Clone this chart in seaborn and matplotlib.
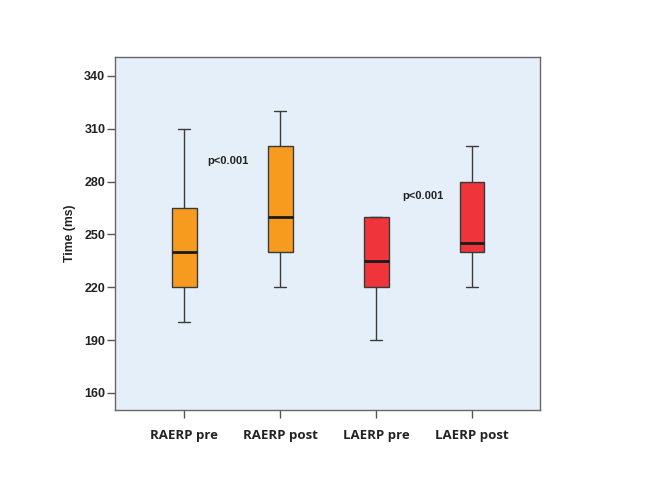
import pandas as pd
import matplotlib
matplotlib.use('Agg')
import matplotlib.pyplot as plt
import seaborn as sns

# %% Data (five-number summaries)
groups = ['RAERP pre', 'RAERP post', 'LAERP pre', 'LAERP post']
raerp_pre = [200, 220, 240, 265, 310]
raerp_post = [220, 240, 260, 300, 320]
laerp_pre = [190, 220, 235, 260, 260]
laerp_post = [220, 240, 245, 280, 300]
yticks = [160, 190, 220, 250, 280, 310, 340]
p_labels = ['p<0.001', 'p<0.001']

# %% Build long table
values = [raerp_pre, raerp_post, laerp_pre, laerp_post]
df = pd.DataFrame({
    'group': [g for g, v in zip(groups, values) for _ in v],
    'time': [x for v in values for x in v],
})

colors = ['#F79B1F', '#F79B1F', '#EF353B', '#EF353B']

sns.set_style('white')
plt.rcParams['font.family'] = ['Liberation Sans', 'DejaVu Sans']

fig = plt.figure(figsize=(6.5, 5.03), dpi=100)
ax = fig.add_axes([0.177, 0.185, 0.654, 0.702])
ax.set_facecolor('#E5EFFA')

sns.boxplot(data=df, x='group', y='time', hue='group', palette=colors,
            order=groups, width=0.26, linewidth=1.0, saturation=1,
            linecolor='#3a3a3a', whis=(0, 100), legend=False,
            medianprops={'color': '#1a1a1a', 'linewidth': 2.0},
            ax=ax)

ax.set_ylim(150.3, 350.8)
ax.set_xlim(-0.72, 3.71)
ax.set_yticks(yticks)
ax.set_yticklabels([str(t) for t in yticks], fontsize=9, fontweight='bold', color='#222222')
ax.set_xticks(range(len(groups)))
ax.set_xticklabels(groups, fontsize=9.5, fontweight='bold', color='#222222',
                   family=['Open Sans', 'DejaVu Sans'])
ax.set_xlabel('')
ax.set_ylabel('Time (ms)', fontsize=8.8, fontweight='bold', color='#222222', labelpad=6)
ax.tick_params(axis='both', direction='out', length=6, width=1, color='#555555',
               pad=1, bottom=True, left=True)
ax.tick_params(axis='x', pad=8)
for s in ax.spines.values():
    s.set_color('#666666')
    s.set_linewidth(1.0)

ax.text(0.24, 291.7, p_labels[0], fontsize=8, fontweight='bold', color='#222222', va='center')
ax.text(2.27, 272, p_labels[1], fontsize=8, fontweight='bold', color='#222222', va='center')

fig.savefig('out.png', dpi=100, facecolor='white')
